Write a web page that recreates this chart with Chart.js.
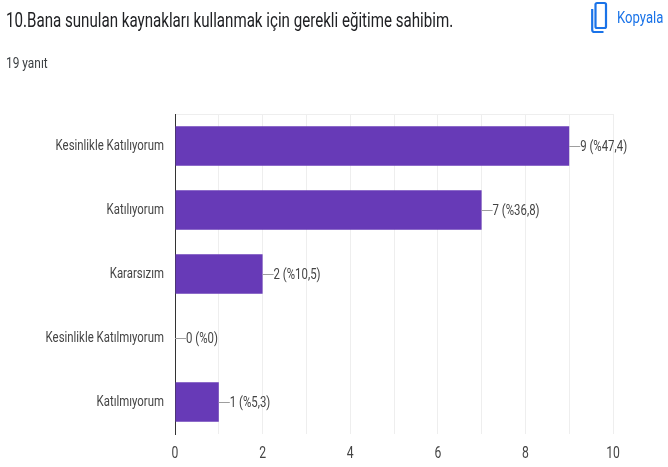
<!DOCTYPE html>
<html><head><meta charset="utf-8">
<style>
html,body{margin:0;padding:0;background:#fff;width:668px;height:467px;overflow:hidden}
#wrap{position:relative;width:668px;height:467px}
canvas{position:absolute;left:0;top:0}
.t{position:absolute;white-space:nowrap;font-family:Roboto,sans-serif;transform-origin:left center}
</style>
<script src="https://cdn.jsdelivr.net/npm/chart.js@4/dist/chart.umd.min.js"></script>
</head><body><div id="wrap">
<canvas id="c" width="668" height="467"></canvas>
<div class="t" style="left:6px;top:8px;font-size:21px;color:#202124;transform:scaleX(.72)">10.Bana sunulan kaynakları kullanmak için gerekli eğitime sahibim.</div>
<div class="t" style="left:6px;top:55px;font-size:14px;color:#3c4043;transform:scaleX(.85)">19 yanıt</div>
<svg style="position:absolute;left:589px;top:1px" width="20" height="34" viewBox="0 0 20 34" fill="none" stroke="#1a73e8" stroke-width="2.2">
<rect x="6.5" y="2" width="10.5" height="25" rx="1.5"/><path d="M3.2 8 V29 a2 2 0 0 0 2 2 H14.5"/></svg>
<div class="t" style="left:617px;top:8px;font-size:16px;color:#1a73e8;transform:scaleX(.82)">Kopyala</div>
</div>
<script>
const categories = ["Kesinlikle Katılıyorum","Katılıyorum","Kararsızım","Kesinlikle Katılmıyorum","Katılmıyorum"];
const values = [9,7,2,0,1];
const valueLabels = ["9 (%47,4)","7 (%36,8)","2 (%10,5)","0 (%0)","1 (%5,3)"];
const FONT = 'Roboto,sans-serif';
const SQUEEZE = 0.76;
const canvas = document.getElementById('c');
const rawCtx = canvas.getContext('2d');
const rawFill = rawCtx.fillText.bind(rawCtx);
rawCtx.fillText = function(t,x,y,m){
  rawCtx.save();rawCtx.translate(x,y);rawCtx.scale(SQUEEZE,1);
  rawFill(t,0,0);
  rawCtx.restore();
};
const leaderPlugin = {
  id:'leader',
  afterDatasetsDraw(chart){
    const {ctx,scales:{x,y}} = chart;
    ctx.save();
    ctx.font = '15px '+FONT;
    ctx.textBaseline='middle';
    ctx.textAlign='left';
    values.forEach((v,i)=>{
      const px=x.getPixelForValue(v), py=y.getPixelForValue(i);
      ctx.strokeStyle='#9e9e9e';ctx.lineWidth=1;
      ctx.beginPath();ctx.moveTo(px,Math.round(py)+0.5);ctx.lineTo(px+11,Math.round(py)+0.5);ctx.stroke();
      ctx.fillStyle='#444';
      ctx.fillText(valueLabels[i],px+11,py+1);
    });
    ctx.restore();
  }
};
new Chart(canvas,{
  type:'bar',
  data:{labels:categories,datasets:[{data:values,backgroundColor:'#673ab7',borderWidth:0,categoryPercentage:0.617,barPercentage:1}]},
  plugins:[leaderPlugin],
  options:{
    indexAxis:'y',responsive:false,animation:false,
    layout:{padding:{left:0,right:55,top:114,bottom:0}},
    plugins:{legend:{display:false},tooltip:{enabled:false},title:{display:false}},
    scales:{
      x:{min:0,max:10,
        afterFit(s){s.height=33;},
        ticks:{stepSize:1,autoSkip:false,maxRotation:0,color:'#444',font:{family:FONT,size:16},padding:10,
          callback:v=>v%2===0?String(v):''},
        grid:{color:'#eeeeee',drawTicks:false},border:{display:false}},
      y:{
        afterFit(s){s.width=175;},
        ticks:{color:'#444',font:{family:FONT,size:15},padding:11},
        grid:{drawTicks:false,color:c=>(c.index===0||c.index===categories.length)?'#eeeeee':'rgba(0,0,0,0)'},
        border:{display:true,color:'#333',width:1}}
    }
  }
});
</script></body></html>
